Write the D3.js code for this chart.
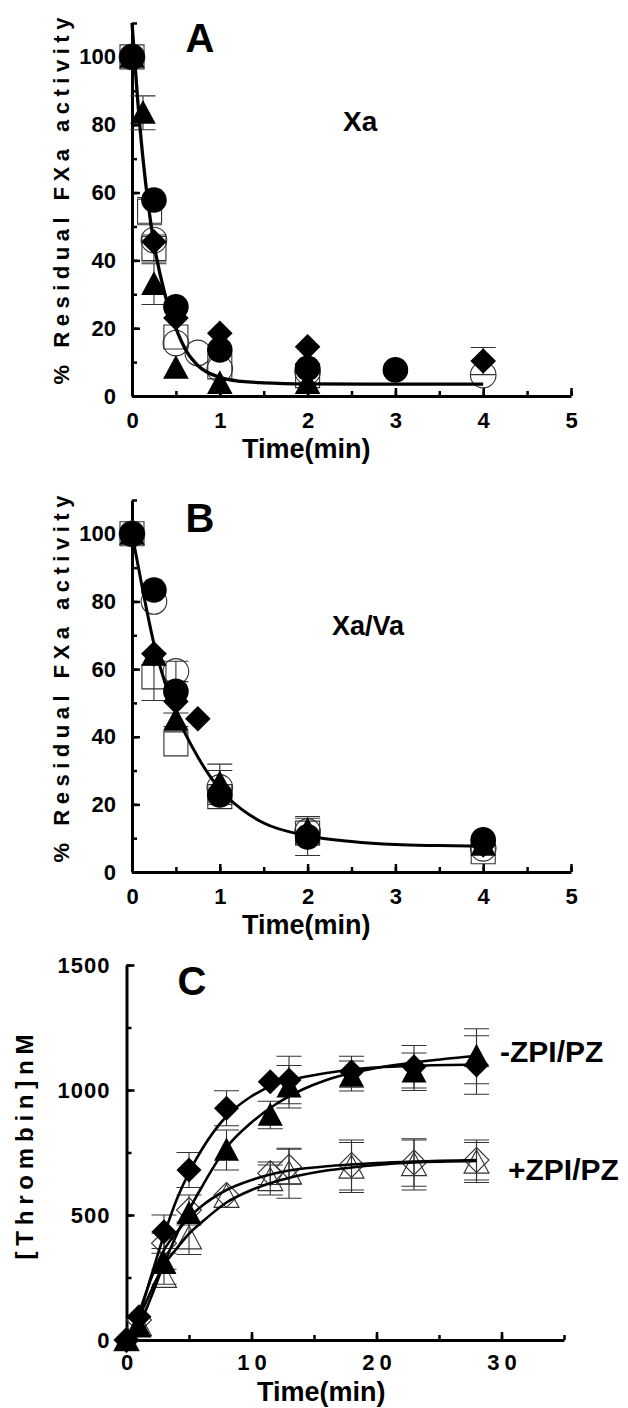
<!DOCTYPE html>
<html><head><meta charset="utf-8">
<script src="https://cdn.jsdelivr.net/npm/d3@7"></script>
<style>
body{margin:0;background:#fff}
svg{display:block}
text{font-family:"Liberation Sans",Arial,Helvetica,sans-serif;font-weight:bold;fill:#000}
</style>
</head><body><div id="chart"></div>
<script>
// ---------- Panel A (Xa) ----------
const aCircleT = [0, 0.25, 0.5, 1, 2, 3];
const aCircleV = [100, 57.8, 26.3, 13.6, 8.2, 7.7];
const aDiamondT = [0, 0.25, 0.5, 1, 2, 4];
const aDiamondV = [100, 45.5, 23, 18.5, 14.5, 10.3];
const aDiamondE = [0, 0, 0, 0, 0, 4];
const aTriangleT = [0, 0.125, 0.25, 0.5, 1, 2];
const aTriangleV = [100, 83.5, 33, 8.3, 3.8, 3.8];
const aTriangleE = [0, 5, 6, 0, 0, 0];
const aOCircleT = [0, 0.25, 0.5, 0.75, 1, 2, 4];
const aOCircleV = [100, 46, 15.6, 12.7, 8, 7.2, 6.2];
const aOSquareT = [0, 0.2, 0.25, 0.5, 1, 2];
const aOSquareV = [100, 54.5, 43.5, 17.4, 8.6, 6];
const aOSquareE = [0, 4, 4, 0, 0, 0];
const aFitT = [0, 0.0625, 0.125, 0.1875, 0.25, 0.375, 0.5, 0.625, 0.75, 1, 1.25, 1.5, 2, 3, 4];
const aFitV = [110, 88, 70, 56, 45, 30, 20, 13, 9, 5.5, 4.3, 3.9, 3.6, 3.5, 3.5];

// ---------- Panel B (Xa/Va) ----------
const bCircleT = [0, 0.25, 0.5, 1, 2, 4];
const bCircleV = [100, 83.4, 53.4, 22.8, 10.4, 9.5];
const bCircleE = [0, 0, 0, 0, 5.5, 0];
const bDiamondT = [0, 0.25, 0.5, 0.75, 1, 2, 4];
const bDiamondV = [100, 64.5, 50.4, 45.3, 23, 11, 8];
const bTriangleT = [0, 0.25, 0.5, 1, 2, 4];
const bTriangleV = [100, 64.2, 45, 26.3, 12.4, 8];
const bTriangleE = [0, 0, 2, 5.6, 4, 0];
const bOCircleT = [0, 0.25, 0.5, 1, 2, 4];
const bOCircleV = [100, 80, 59.3, 25, 12, 7];
const bOCircleE = [0, 0, 3, 5, 0, 0];
const bOSquareT = [0, 0.25, 0.5, 1, 2, 4];
const bOSquareV = [100, 57.7, 37.9, 22.3, 11.5, 6];
const bOSquareE = [0, 7, 0, 0, 0, 0];
const bFitT = [0, 0.125, 0.25, 0.375, 0.5, 0.75, 1, 1.25, 1.5, 2, 2.5, 3, 3.5, 4];
const bFitV = [100, 83, 67.5, 56, 47, 34, 24.5, 18.5, 14.5, 10.7, 9, 8.1, 7.8, 7.6];

// ---------- Panel C (thrombin) ----------
const cTime = [0, 1, 3, 5, 8, 11.5, 13, 18, 23, 28];
const cMinusDiamond = [0, 93, 433, 680, 927, 1033, 1040, 1073, 1093, 1100];
const cMinusDiamondE = [0, 0, 67, 70, 70, 0, 95, 62, 85, 117];
const cMinusTriangle = [0, 53, 307, 507, 760, 900, 1013, 1056, 1073, 1135];
const cMinusTriangleE = [0, 0, 0, 0, 80, 55, 85, 60, 75, 110];
const cPlusDiamond = [0, 80, 387, 520, 580, 667, 693, 700, 710, 720];
const cPlusDiamondE = [0, 0, 40, 60, 0, 45, 70, 100, 95, 80];
const cPlusTriangle = [0, 60, 253, 407, 573, 640, 667, 690, 700, 710];
const cPlusTriangleE = [0, 0, 30, 65, 0, 60, 100, 100, 100, 80];
const cFitT = [0, 1, 2, 3, 4, 5, 6, 8, 10, 12, 14, 16, 18, 20, 23, 28];
const cFitMinusDiamond = [0, 100, 260, 420, 560, 670, 760, 895, 975, 1025, 1050, 1068, 1082, 1090, 1097, 1102];
const cFitMinusTriangle = [0, 60, 175, 305, 420, 520, 610, 770, 870, 945, 1000, 1040, 1068, 1088, 1110, 1137];
const cFitPlusDiamond = [0, 110, 250, 360, 430, 490, 535, 600, 640, 668, 685, 695, 702, 708, 714, 720];
const cFitPlusTriangle = [0, 90, 200, 300, 365, 425, 470, 550, 600, 635, 660, 678, 690, 700, 710, 716];

// tick labels
const abXTicks = [0, 1, 2, 3, 4, 5];
const abYTicks = [0, 20, 40, 60, 80, 100];
const cXTicks = [0, 10, 20, 30];
const cYTicks = [0, 500, 1000, 1500];

const svg = d3.select("#chart").append("svg").attr("width", 628).attr("height", 1408);

function markerPath(type, s) {
  if (type === "circle") return d3.symbol(d3.symbolCircle, Math.PI * s * s)();
  if (type === "diamond") return `M0,${-s}L${s},0L0,${s}L${-s},0Z`;
  if (type === "triangle") return `M0,${-s}L${s},${s * 0.85}L${-s},${s * 0.85}Z`;
  return `M${-s},${-s}H${s}V${s}H${-s}Z`;
}

function drawAxes(g, x, y, o) {
  const x0 = y.range()[0], yL = x.range()[0];
  const style = sel => {
    sel.select(".domain").attr("stroke", "#000").attr("stroke-width", 3);
    sel.selectAll(".tick line").attr("stroke", "#000").attr("stroke-width", 2.5);
    sel.selectAll(".tick text").style("font-size", o.fs + "px").attr("fill", "#000");
  };
  g.append("g").attr("transform", `translate(0,${x0})`)
    .call(d3.axisBottom(x).tickValues(o.xMinor).tickSize(-5).tickSizeOuter(0).tickFormat(""))
    .call(style);
  g.append("g").attr("transform", `translate(${yL},0)`)
    .call(d3.axisLeft(y).tickValues(o.yMinor).tickSize(-5).tickSizeOuter(0).tickFormat(""))
    .call(style);
  const xa = g.append("g").attr("transform", `translate(0,${x0})`)
    .call(d3.axisBottom(x).tickValues(o.xTicks).tickSize(-8).tickSizeOuter(0).tickPadding(o.xPad).tickFormat(d3.format("d")))
    .call(style);
  const ya = g.append("g").attr("transform", `translate(${yL},0)`)
    .call(d3.axisLeft(y).tickValues(o.yTicks).tickSize(-8).tickSizeOuter(0).tickPadding(o.yPad).tickFormat(d3.format("d")))
    .call(style);
  xa.select(".domain").remove(); ya.select(".domain").remove();
  if (o.xSpacing) xa.selectAll(".tick text").style("letter-spacing", o.xSpacing + "px").attr("dx", o.xSpacing / 2);
  if (o.ySpacing) ya.selectAll(".tick text").style("letter-spacing", o.ySpacing + "px").attr("dx", o.ySpacing);
}

function drawSeries(g, x, y, series, fits, ms, lw) {
  series.filter(s => !s.filled).forEach(s => {
    g.append("g").selectAll("path").data(s.t.map((t, i) => [t, s.v[i]])).join("path")
      .attr("d", markerPath(s.type, s.size || ms))
      .attr("transform", d => `translate(${x(d[0])},${y(d[1])})`)
      .attr("fill", "none").attr("stroke", "#333").attr("stroke-width", 1.1);
  });
  series.forEach(s => {
    if (!s.e) return;
    const pts = s.t.map((t, i) => [t, s.v[i], s.e[i]]).filter(d => d[2] > 0);
    const eg = g.append("g").attr("stroke", "#333").attr("stroke-width", 1.1).attr("fill", "none");
    eg.selectAll("path").data(pts).join("path")
      .attr("d", d => {
        const cx = x(d[0]), yt = y(d[1] + d[2]), yb = y(d[1] - d[2]), w = 12.5;
        return `M${cx},${yt}V${yb}M${cx - w},${yt}H${cx + w}M${cx - w},${yb}H${cx + w}`;
      });
  });
  fits.forEach(f => {
    g.append("path").datum(f.t.map((t, i) => [t, f.v[i]]))
      .attr("d", d3.line().x(d => x(d[0])).y(d => y(d[1])).curve(d3.curveMonotoneX))
      .attr("fill", "none").attr("stroke", "#000").attr("stroke-width", lw);
  });
  series.filter(s => s.filled).forEach(s => {
    g.append("g").selectAll("path").data(s.t.map((t, i) => [t, s.v[i]])).join("path")
      .attr("d", markerPath(s.type, s.size || ms))
      .attr("transform", d => `translate(${x(d[0])},${y(d[1])})`)
      .attr("fill", "#000");
  });
}

function yLabel(text, cx, cy, fs, ls) {
  svg.append("text").attr("transform", `translate(${cx},${cy}) rotate(-90)`)
    .attr("text-anchor", "middle").attr("dx", ls / 2)
    .style("font-size", fs + "px").style("letter-spacing", ls + "px").text(text);
}
function label(text, x, y, fs, anchor) {
  svg.append("text").attr("x", x).attr("y", y).attr("text-anchor", anchor || "start")
    .style("font-size", fs + "px").text(text);
}

const abMinorX = d3.range(0, 5.01, 0.5);
const abMinorY = d3.range(0, 110.1, 10);

// ----- Panel A -----
{
  const x = d3.scaleLinear().domain([0, 5]).range([132, 571]);
  const y = d3.scaleLinear().domain([0, 110]).range([396, 23]);
  const g = svg.append("g");
  drawAxes(g, x, y, {xTicks: abXTicks, yTicks: abYTicks, xMinor: abMinorX, yMinor: abMinorY, fs: 22, yPad: 16, xPad: 16});
  drawSeries(g, x, y, [
    {type: "square", filled: false, t: aOSquareT, v: aOSquareV, e: aOSquareE, size: 12},
    {type: "circle", filled: false, t: aOCircleT, v: aOCircleV},
    {type: "triangle", filled: true, t: aTriangleT, v: aTriangleV, e: aTriangleE},
    {type: "diamond", filled: true, t: aDiamondT, v: aDiamondV, e: aDiamondE},
    {type: "circle", filled: true, t: aCircleT, v: aCircleV}
  ], [{t: aFitT, v: aFitV}], 12.8, 3.3);
  label("A", 200, 52, 40, "middle");
  label("Xa", 343, 131, 28);
  label("Time(min)", 242, 458, 27);
  yLabel("% Residual FXa activity", 69, 201, 22, 5.5);
}

// ----- Panel B -----
{
  const x = d3.scaleLinear().domain([0, 5]).range([132, 571]);
  const y = d3.scaleLinear().domain([0, 110]).range([872, 500]);
  const g = svg.append("g");
  drawAxes(g, x, y, {xTicks: abXTicks, yTicks: abYTicks, xMinor: abMinorX, yMinor: abMinorY, fs: 22, yPad: 16, xPad: 16});
  drawSeries(g, x, y, [
    {type: "square", filled: false, t: bOSquareT, v: bOSquareV, e: bOSquareE, size: 12},
    {type: "circle", filled: false, t: bOCircleT, v: bOCircleV, e: bOCircleE},
    {type: "triangle", filled: true, t: bTriangleT, v: bTriangleV, e: bTriangleE},
    {type: "diamond", filled: true, t: bDiamondT, v: bDiamondV},
    {type: "circle", filled: true, t: bCircleT, v: bCircleV, e: bCircleE}
  ], [{t: bFitT, v: bFitV}], 12.8, 3);
  label("B", 200, 532, 40, "middle");
  label("Xa/Va", 332, 635, 27);
  label("Time(min)", 242, 934, 27);
  yLabel("% Residual FXa activity", 69, 679, 22, 5.5);
}

// ----- Panel C -----
{
  const x = d3.scaleLinear().domain([0, 35]).range([126.5, 564]);
  const y = d3.scaleLinear().domain([0, 1500]).range([1340, 965]);
  const g = svg.append("g");
  drawAxes(g, x, y, {xTicks: cXTicks, yTicks: cYTicks, xMinor: d3.range(0, 35.1, 5), yMinor: d3.range(0, 1501, 250), fs: 22, yPad: 17, xPad: 14, xSpacing: 5, ySpacing: 1});
  drawSeries(g, x, y, [
    {type: "triangle", filled: false, t: cTime, v: cPlusTriangle, e: cPlusTriangleE},
    {type: "diamond", filled: false, t: cTime, v: cPlusDiamond, e: cPlusDiamondE},
    {type: "triangle", filled: true, t: cTime, v: cMinusTriangle, e: cMinusTriangleE},
    {type: "diamond", filled: true, t: cTime, v: cMinusDiamond, e: cMinusDiamondE}
  ], [
    {t: cFitT, v: cFitMinusDiamond}, {t: cFitT, v: cFitMinusTriangle},
    {t: cFitT, v: cFitPlusDiamond}, {t: cFitT, v: cFitPlusTriangle}
  ], 12.5, 2.6);
  label("C", 192, 995, 40, "middle");
  label("-ZPI/PZ", 500, 1062, 30);
  label("+ZPI/PZ", 508, 1180, 30);
  label("Time(min)", 257, 1401, 27);
  yLabel("[Thrombin]nM", 33, 1147, 24, 5.8);
}
</script>
</body></html>
